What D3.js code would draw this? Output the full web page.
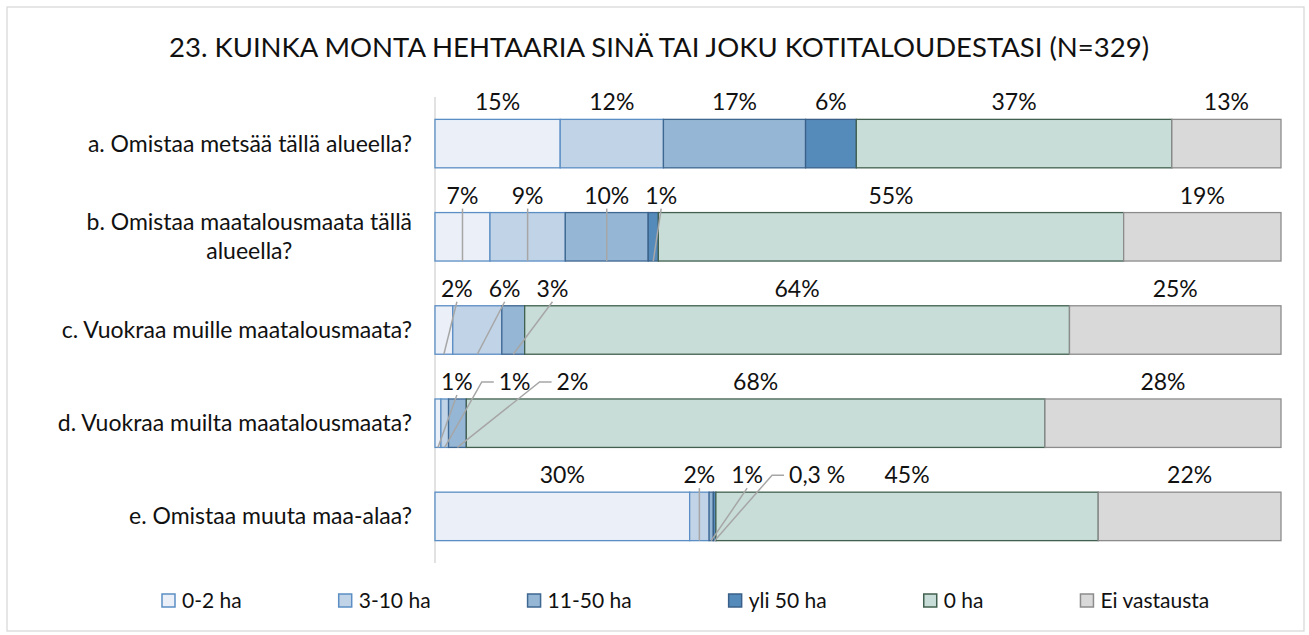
<!DOCTYPE html>
<head>
    <meta charset="utf-8">
    <title>23. Kuinka monta hehtaaria</title>
    <script src="https://d3js.org/d3.v7.min.js"></script>
    <style>
        body { margin: 0; background: #fff; }
        svg { font-family: Lato, "Noto Sans", sans-serif; }
    </style>
</head>

<body>
    <div id="container"></div>
    <script>
        //------------------------------DATA------------------------------//
        var title = "23. KUINKA MONTA HEHTAARIA SINÄ TAI JOKU KOTITALOUDESTASI (N=329)";
        var categories = [
            "a. Omistaa metsää tällä alueella?",
            "b. Omistaa maatalousmaata tällä alueella?",
            "c. Vuokraa muille maatalousmaata?",
            "d. Vuokraa muilta maatalousmaata?",
            "e. Omistaa muuta maa-alaa?"
        ];
        var seriesNames = ["0-2 ha", "3-10 ha", "11-50 ha", "yli 50 ha", "0 ha", "Ei vastausta"];
        // percent per category, in series order
        var ha0to2   = [14.8, 6.5, 2.1, 0.7, 30.1];
        var ha3to10  = [12.2, 8.9, 5.8, 0.9, 2.3];
        var ha11to50 = [16.8, 9.8, 2.7, 2.1, 0.5];
        var haOver50 = [6.0, 1.2, 0, 0, 0.3];
        var ha0      = [37.3, 55.0, 64.4, 68.4, 45.2];
        var noAnswer = [12.9, 18.6, 25.0, 27.9, 21.6];
        var xTicks = [0, 100];
        // rows where the small labels were pulled up with leader lines
        var leaderRows = categories.slice(1);

        //----------------------------STYLE-------------------------------//
        var fills = ["#EBF0F8", "#C1D3E6", "#95B6D4", "#558BBA", "#C9DDD8", "#D9D9D9"],
            strokes = ["#5B8EC4", "#5B8EC4", "#3E6791", "#3A6089", "#41604F", "#8C8C8C"],
            W = 1309, H = 635,
            plot = { left: 435, right: 1281, top: 97, bottom: 563 },
            labelX = 412,
            fontSize = "23px";

        var svg = d3.select("#container").append("svg")
            .attr("width", W).attr("height", H);

        svg.append("rect")
            .attr("x", 7).attr("y", 7).attr("width", W - 5 - 7).attr("height", H - 4 - 7)
            .attr("fill", "#fff").attr("stroke", "#D9D9D9").attr("stroke-width", 1.3);

        //----------------------------SCALES------------------------------//
        var x = d3.scaleLinear().domain(d3.extent(xTicks)).range([plot.left, plot.right]);
        var y = d3.scaleBand().domain(categories).range([plot.top, plot.bottom])
            .paddingInner(0.48).paddingOuter(0.24);

        var table = categories.map(function (c, i) {
            var row = { category: c };
            [ha0to2, ha3to10, ha11to50, haOver50, ha0, noAnswer].forEach(function (s, k) {
                row[seriesNames[k]] = s[i];
            });
            return row;
        });
        var stacked = d3.stack().keys(seriesNames)(table);

        //-----------------------------TITLE------------------------------//
        svg.append("text")
            .attr("x", 659).attr("y", 57)
            .attr("text-anchor", "middle")
            .style("font-size", "27.5px").style("fill", "#111")
            .text(title);

        //-----------------------------AXIS-------------------------------//
        svg.append("line")
            .attr("x1", plot.left).attr("x2", plot.left)
            .attr("y1", plot.top).attr("y2", plot.bottom)
            .attr("stroke", "#D9D9D9").attr("stroke-width", 1.5);

        // category labels, wrapped and centred like Excel does
        var maxLabel = 390;
        categories.forEach(function (c) {
            var t = svg.append("text")
                .attr("text-anchor", "middle")
                .style("font-size", fontSize).style("fill", "#111");
            var words = c.split(" "), lines = [], cur = [];
            words.forEach(function (w) {
                cur.push(w);
                t.text(cur.join(" "));
                if (t.node().getComputedTextLength() > maxLabel && cur.length > 1) {
                    cur.pop();
                    lines.push(cur.join(" "));
                    cur = [w];
                }
            });
            lines.push(cur.join(" "));
            var widths = lines.map(function (l) {
                t.text(l);
                return t.node().getComputedTextLength();
            });
            t.text(null);
            var cx = labelX - d3.max(widths) / 2,
                lh = 29,
                cy = y(c) + y.bandwidth() / 2 - (lines.length - 1) * lh / 2;
            lines.forEach(function (l, i) {
                t.append("tspan").attr("x", cx).attr("y", cy + i * lh).attr("dy", "0.35em").text(l);
            });
        });

        //-----------------------------BARS-------------------------------//
        var groups = svg.selectAll(".serie")
            .data(stacked)
            .enter().append("g")
            .attr("class", "serie")
            .attr("fill", function (d, i) { return fills[i]; })
            .attr("stroke", function (d, i) { return strokes[i]; });

        groups.selectAll("rect")
            .data(function (d) { return d.filter(function (p) { return p[1] > p[0]; }); })
            .enter().append("rect")
            .attr("x", function (d) { return x(d[0]); })
            .attr("y", function (d) { return y(d.data.category); })
            .attr("width", function (d) { return x(d[1]) - x(d[0]); })
            .attr("height", y.bandwidth())
            .attr("stroke-width", 1.3);

        //----------------------------LABELS------------------------------//
        function fmt(v) {
            return v < 0.5 ? v.toFixed(1).replace(".", ",") + " %" : Math.round(v) + "%";
        }

        var labelLayer = svg.append("g");
        categories.forEach(function (c, ci) {
            var top = y(c), bottom = top + y.bandwidth(),
                base = top - 9,
                leaders = leaderRows.indexOf(c) >= 0,
                gap = leaders ? 16 : 6,
                prevRight = plot.left + 6 - gap;
            stacked.forEach(function (s, k) {
                var p = s[ci], v = p[1] - p[0];
                if (v <= 0) return;
                var center = (x(p[0]) + x(p[1])) / 2;
                var t = labelLayer.append("text")
                    .attr("text-anchor", "middle")
                    .style("font-size", fontSize).style("fill", "#111")
                    .text(fmt(v));
                var w = t.node().getComputedTextLength(),
                    lx = Math.max(center, prevRight + gap + w / 2),
                    elbow = leaders && Math.abs(lx - center) > w * 1.3;
                if (elbow) lx += 10;
                t.attr("x", lx).attr("y", base);
                prevRight = lx + w / 2;

                if (!leaders || k > 3 || v >= 12) return;
                var path;
                if (elbow) {
                    var side = center < lx ? -1 : 1,
                        sx = lx + side * (w / 2 + 5),
                        sy = base - 8;
                    path = [[sx, sy], [sx + side * 12, sy], [center, bottom]];
                } else {
                    path = [[lx, base + 5], [center, bottom]];
                }
                labelLayer.append("path")
                    .attr("d", d3.line()(path))
                    .attr("fill", "none")
                    .attr("stroke", "#A6A6A6").attr("stroke-width", 1.5);
            });
        });

        //----------------------------LEGEND------------------------------//
        var lx = 162, ly = 601;
        seriesNames.forEach(function (n, i) {
            var g = svg.append("g");
            g.append("rect")
                .attr("x", lx).attr("y", ly - 7).attr("width", 13).attr("height", 13)
                .attr("fill", fills[i]).attr("stroke", strokes[i]).attr("stroke-width", 1.5);
            var t = g.append("text")
                .attr("x", lx + 20).attr("y", ly).attr("dy", "0.35em")
                .style("font-size", "21px").style("fill", "#111")
                .text(n);
            lx += 20 + t.node().getComputedTextLength() + 97;
        });
    </script>
</body>
